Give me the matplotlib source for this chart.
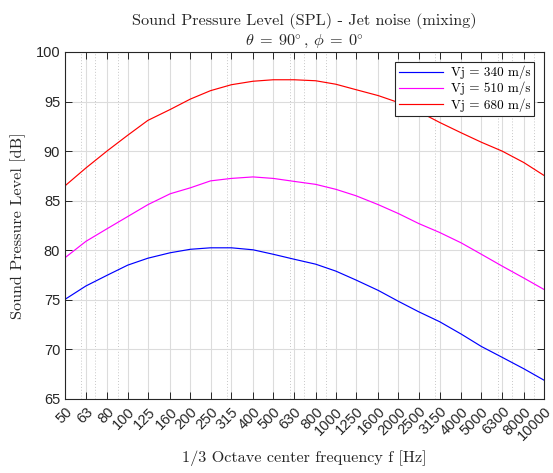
import numpy as np
import matplotlib
matplotlib.use("Agg")
import matplotlib.pyplot as plt
from matplotlib.ticker import FixedLocator, NullFormatter, LogLocator

plt.rcParams['mathtext.fontset'] = 'cm'

freqs = [50, 63, 80, 100, 125, 160, 200, 250, 315, 400, 500, 630, 800, 1000,
         1250, 1600, 2000, 2500, 3150, 4000, 5000, 6300, 8000, 10000]
freq_labels = [str(f) for f in freqs]

spl_340 = [75.05, 76.4, 77.5, 78.5, 79.2, 79.75, 80.1, 80.25, 80.25, 80.05, 79.6, 79.1,
           78.6, 77.9, 77.0, 75.95, 74.85, 73.8, 72.8, 71.55, 70.3, 69.2, 68.05, 66.9]
spl_510 = [79.25, 80.9, 82.2, 83.4, 84.6, 85.7, 86.3, 87.0, 87.25, 87.4, 87.25, 86.95,
           86.65, 86.15, 85.5, 84.6, 83.7, 82.7, 81.8, 80.75, 79.6, 78.4, 77.2, 76.05]
spl_680 = [86.5, 88.3, 90.05, 91.6, 93.1, 94.2, 95.25, 96.1, 96.7, 97.05, 97.2, 97.2,
           97.1, 96.75, 96.2, 95.6, 94.9, 94.0, 92.9, 91.85, 90.9, 90.0, 88.85, 87.55]
series_labels = ['Vj = 340 m/s', 'Vj = 510 m/s', 'Vj = 680 m/s']
series_colors = ['#0000ff', '#ff00ff', '#ff0000']

yticks = [65, 70, 75, 80, 85, 90, 95, 100]

fig = plt.figure(figsize=(5.53, 4.73), dpi=100)
ax = fig.add_axes([65/553, 1-399/473, (544-65)/553, (399-52)/473])

for vals, lab, col in zip([spl_340, spl_510, spl_680], series_labels, series_colors):
    ax.plot(freqs, vals, color=col, lw=0.85, label=lab)

ax.set_xscale('log')
ax.set_xlim(freqs[0], freqs[-1])
ax.set_ylim(65, 100)

ax.xaxis.set_major_locator(FixedLocator(freqs))
ax.set_xticklabels(freq_labels)
ax.xaxis.set_minor_locator(LogLocator(base=10, subs=np.arange(2, 10)))
ax.xaxis.set_minor_formatter(NullFormatter())
ax.set_yticks(yticks)
ax.set_yticklabels([str(v) for v in yticks])

tc = '#262626'
ax.grid(True, which='major', axis='both', color='#dcdcdc', lw=0.8, ls='-')
ax.grid(True, which='minor', axis='x', color='#c8c8c8', lw=0.7, ls=(0, (1, 2)))
ax.set_axisbelow(True)

ax.tick_params(which='major', direction='in', length=5, width=0.7, top=True, right=True,
               colors=tc, labelsize=10.5)
ax.tick_params(which='minor', direction='in', length=0, top=True, right=True)
for lab in ax.get_xticklabels() + ax.get_yticklabels():
    lab.set_fontfamily('Liberation Sans')
for lab in ax.get_xticklabels():
    lab.set_rotation(45)
    lab.set_ha('right')
    lab.set_va('top')
    lab.set_rotation_mode('anchor')
ax.tick_params(axis='x', pad=4)
for s in ax.spines.values():
    s.set_color(tc)
    s.set_linewidth(0.8)

ax.set_title('Sound Pressure Level (SPL) - Jet noise (mixing)\n'
             r'$\theta\;=\;90^{\!\!\circ}$, $\phi\;=\;0^{\!\!\circ}$',
             fontfamily='cmr10', fontsize=11.7, color=tc, pad=5, linespacing=1.25)
ax.set_xlabel('1/3 Octave center frequency f [Hz]', fontfamily='cmr10', fontsize=11.7,
              color=tc, labelpad=5)
ax.set_ylabel('Sound Pressure Level [dB]', fontfamily='cmr10', fontsize=11.7, color=tc,
              labelpad=7)

leg = ax.legend(loc='upper right', prop={'family': 'cmr10', 'size': 9.5},
                fancybox=False, framealpha=1, edgecolor=tc, handlelength=3.3,
                borderaxespad=0.75, borderpad=0.3, labelspacing=0.2, handletextpad=0.6)
leg.get_frame().set_linewidth(0.8)

fig.savefig('out.png', dpi=100)
